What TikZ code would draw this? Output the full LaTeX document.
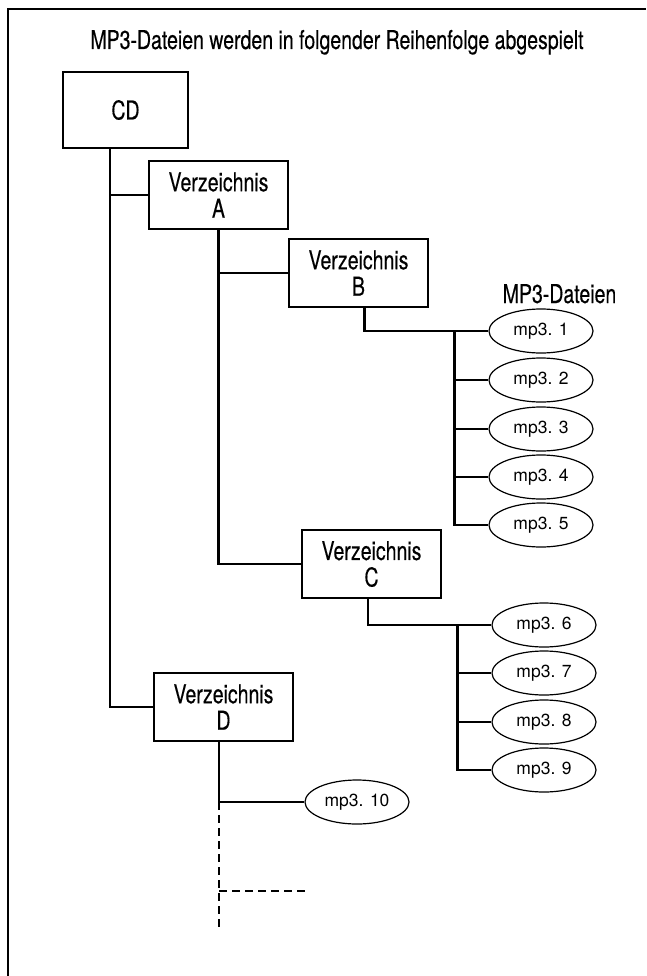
\documentclass[tikz,border=0pt]{standalone}
\usepackage{fontspec}
\setmainfont{TeX Gyre Heros}[FakeStretch=0.75,FakeBold=0.3]
\newfontfamily\filefont{TeX Gyre Heros}
\usetikzlibrary{shapes.geometric}

\begin{document}
\begin{tikzpicture}[
 x=1pt, y=-1pt,
 font=\fontsize{26}{26.5}\selectfont,
 frame/.style={black,line width=1.5pt},
 dirbox/.style={draw,line width=2.2pt,minimum width=139pt,minimum height=68pt,inner sep=0pt,align=center},
 rootbox/.style={dirbox,minimum width=125pt,minimum height=76pt},
 mpfile/.style={draw,ellipse,line width=1.2pt,minimum width=104pt,minimum height=44pt,inner sep=0pt,font=\filefont\fontsize{17.5}{17.5}\selectfont},
 link/.style={black,line width=2.2pt},
 more/.style={link,line width=1.6pt,dash pattern=on 8pt off 5pt},
]
\useasboundingbox (0,0) rectangle (646,976);

% Frame (cut off right and below)
\draw[frame] (8,976) |- (646,9);

\node[anchor=base] (title) at (337,49) {MP3-Dateien werden in folgender Reihenfolge abgespielt};

% Directories
\node[rootbox] (CD) at (125.5,110) {CD};
\foreach \dir/\x/\y in {A/218.5/195, B/358.5/273, C/371.5/564, D/223.5/707}
    \node[dirbox] (\dir) at (\x,\y) {Verzeichnis\\\dir};

% Files
\node[anchor=base] (files) at (559.5,303) {MP3-Dateien};
\foreach \i/\x/\y in {1/541/331, 2/541/380, 3/541/429, 4/541/477, 5/541/525,
                      6/544/625, 7/544/673, 8/544/722, 9/544/770, 10/357/802}
    \node[mpfile] (m\i) at (\x,\y) {mp3. \i};

% Tree
\draw[link] ([xshift=-15.5pt]CD.south) |- (A.west);
\draw[link] ([xshift=-15.5pt]CD.south) |- (D.west);
\draw[link] (A.south) |- (B.west);
\draw[link] (A.south) |- (C.west);
\draw[link] ([xshift=6pt]B.south) |- (m1.west);
\foreach \i in {2,...,5}
    \draw[link] ([xshift=-34pt]m1.west) |- (m\i.west);
\draw[link] ([xshift=-3.5pt]C.south) |- (m6.west);
\foreach \i in {7,8,9}
    \draw[link] ([xshift=-34pt]m6.west) |- (m\i.west);
\draw[link] ([xshift=-4.5pt]D.south) |- (m10.west);

% Further files
\coordinate (next) at (305,891);
\coordinate (last) at (219,929);
\draw[more] (m10.west -| last) -- (last);
\draw[more] (next -| last) -- (next);

\end{tikzpicture}
\end{document}
